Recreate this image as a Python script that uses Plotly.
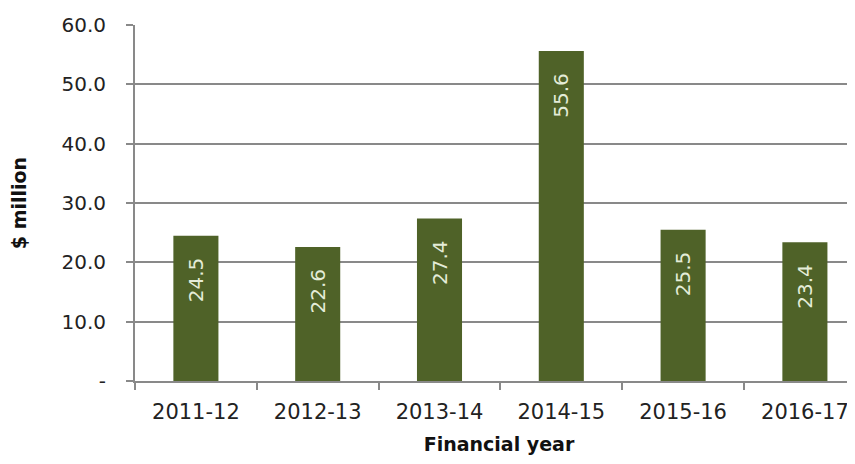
import plotly.graph_objects as go

years = ["2011-12", "2012-13", "2013-14", "2014-15", "2015-16", "2016-17"]
values = [24.5, 22.6, 27.4, 55.6, 25.5, 23.4]
y_ticks = [0, 10, 20, 30, 40, 50, 60]
y_tick_labels = ["-", "10.0", "20.0", "30.0", "40.0", "50.0", "60.0"]

BAR = "#4f6228"
GRID = "#898989"
FONT = "DejaVu Sans"

fig = go.Figure()
fig.add_trace(go.Bar(
    x=years, y=values, width=0.37,
    marker=dict(color=BAR, line=dict(width=0)),
    text=[f"{v:.1f}\u00a0\u00a0\u00a0" for v in values],
    textposition="inside", insidetextanchor="end", textangle=-90,
    textfont=dict(family=FONT, size=20, color="#e4ecd8"),
    hoverinfo="skip",
))

fig.update_layout(
    width=855, height=464,
    margin=dict(l=127, r=0, t=17, b=91),
    paper_bgcolor="white", plot_bgcolor="white",
    showlegend=False,
    font=dict(family=FONT, color="#222222"),
)
fig.update_xaxes(
    type="category", automargin=False,
    range=[-0.5, 5.477],
    showline=True, linecolor=GRID, linewidth=2,
    ticks="outside", tickson="boundaries", ticklen=7, tickwidth=2, tickcolor=GRID,
    showgrid=False, tickangle=0,
    tickfont=dict(family=FONT, size=21, color="#222222"),
    ticklabelstandoff=11,
    title=dict(text="<b>Financial year</b>", font=dict(family=FONT, size=19, color="#111111"), standoff=14),
)
fig.update_yaxes(
    automargin=False,
    range=[0, 60], tickvals=y_ticks, ticktext=y_tick_labels,
    showline=True, linecolor=GRID, linewidth=2,
    showgrid=True, gridcolor=GRID, gridwidth=2,
    ticks="outside", ticklen=7, tickwidth=2, tickcolor=GRID,
    tickfont=dict(family=FONT, size=20, color="#222222"),
    ticklabelstandoff=16,
    zeroline=False,
    title=dict(text="<b>$ million</b>", font=dict(family=FONT, size=19, color="#111111"), standoff=36),
)

fig.write_html("out.html")
